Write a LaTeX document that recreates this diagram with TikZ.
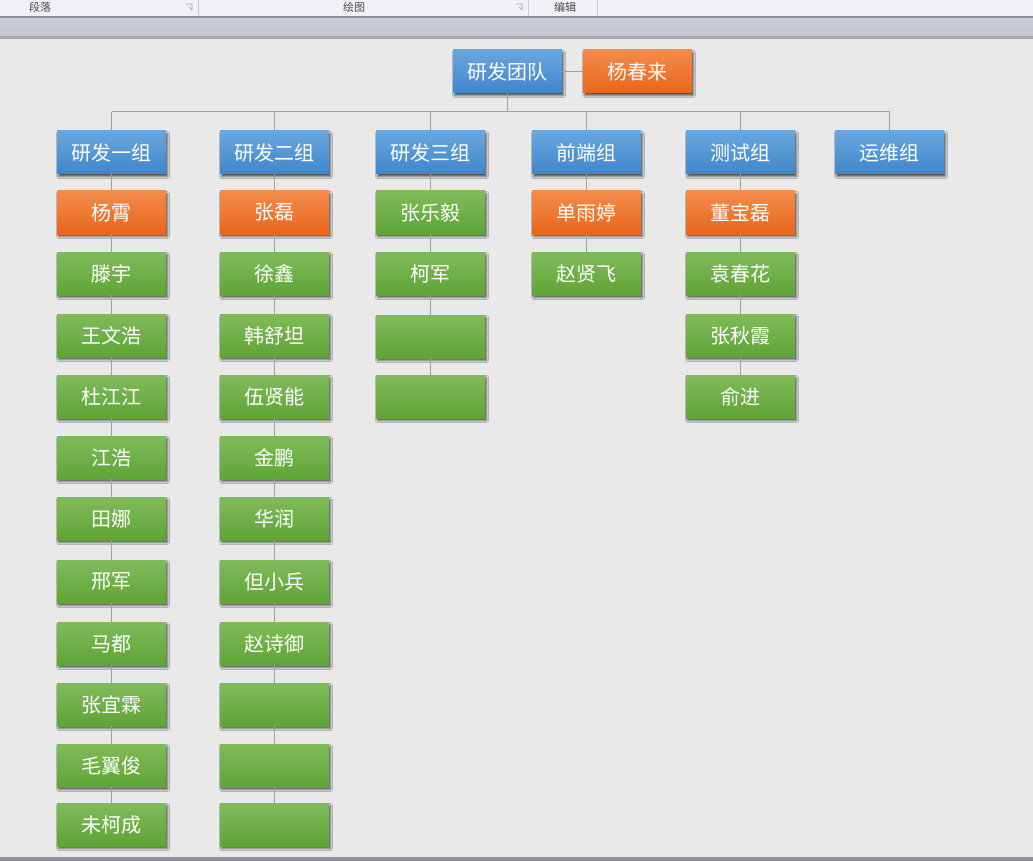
\documentclass[tikz,border=0pt]{standalone}
\usepackage{fontspec}
\newfontfamily\cjk{Noto Sans CJK SC}
\usetikzlibrary{shadows,shadows.blur}
\definecolor{canvas}{HTML}{E9E9E9}
\definecolor{tbar}{HTML}{F0F1F4}
\definecolor{tline}{HTML}{8A8E96}
\definecolor{bandtop}{HTML}{CDD0D6}
\definecolor{bandbot}{HTML}{C3C6CC}
\definecolor{bandedge}{HTML}{A8ABB2}
\definecolor{tbtext}{HTML}{4A4A4A}
\definecolor{tdiv}{HTML}{C5C8CE}
\definecolor{ticon}{HTML}{A0A3A8}
\definecolor{bottombar}{HTML}{8F9196}
\definecolor{conn}{HTML}{A0A0A0}
\definecolor{bluetop}{HTML}{6AA6DF}
\definecolor{bluebot}{HTML}{3E87CB}
\definecolor{orangetop}{HTML}{F48B4C}
\definecolor{orangebot}{HTML}{E8661A}
\definecolor{greentop}{HTML}{80BB5B}
\definecolor{greenbot}{HTML}{5FA436}
\tikzset{
  box/.style={minimum width=109pt, minimum height=43pt, inner sep=0pt, text=white,
    font=\cjk\fontsize{20}{21}\selectfont,
    blur shadow={shadow xshift=1.5pt, shadow yshift=-2.5pt, shadow blur radius=2pt, shadow opacity=65}},
  bluebox/.style={box, top color=bluetop, bottom color=bluebot},
  orangebox/.style={box, top color=orangetop, bottom color=orangebot},
  greenbox/.style={box, top color=greentop, bottom color=greenbot},
  link/.style={draw=conn, line width=1pt},
  tbtxt/.style={text=tbtext, font=\cjk\fontsize{11}{12}\selectfont, inner sep=0pt}
}
\begin{document}
\begin{tikzpicture}[x=1pt,y=-1pt]
\useasboundingbox (0,0) rectangle (1033,861);
\fill[canvas] (0,0) rectangle (1033,861);
% toolbar
\fill[tbar] (0,0) rectangle (1033,17);
\fill[top color=bandtop, bottom color=bandbot] (0,17) rectangle (1033,36);
\fill[bandedge] (0,36) rectangle (1033,39);
\fill[tline] (0,16.5) rectangle (1033,18);
\fill[tdiv] (197.5,0) rectangle (198.5,16.5);
\fill[tdiv] (527.5,0) rectangle (528.5,16.5);
\fill[tdiv] (596.5,0) rectangle (597.5,16.5);
\node[tbtxt] (t1) at (40,7) {段落};
\node[tbtxt] (t2) at (354,7) {绘图};
\node[tbtxt] (t3) at (565,7) {编辑};
\draw[ticon, line width=0.6pt] (186,4) -- (192,4) -- (192,10) (189,7) -- (192,10);
\draw[ticon, line width=0.6pt] (516,4) -- (522,4) -- (522,10) (519,7) -- (522,10);
% bottom bar
\fill[bottombar] (0,857) rectangle (1033,861);

% top level
\node[bluebox] (top) at (507.5,71.5) {研发团队};
\node[orangebox] (yang) at (637.5,71.5) {杨春来};
\coordinate (bus) at (0,112);

% column 1
\node[bluebox] (a0) at (111.5,152.5) {研发一组};
\node[orangebox] (a1) at (111.5,212.5) {杨霄};
\node[greenbox] (a2) at (111.5,273.5) {滕宇};
\node[greenbox] (a3) at (111.5,335.5) {王文浩};
\node[greenbox] (a4) at (111.5,396.5) {杜江江};
\node[greenbox] (a5) at (111.5,457.5) {江浩};
\node[greenbox] (a6) at (111.5,518.5) {田娜};
\node[greenbox] (a7) at (111.5,581.5) {邢军};
\node[greenbox] (a8) at (111.5,643.5) {马都};
\node[greenbox] (a9) at (111.5,704.5) {张宜霖};
\node[greenbox] (a10) at (111.5,765.5) {毛翼俊};
\node[greenbox] (a11) at (111.5,824.5) {未柯成};
% column 2
\node[bluebox] (b0) at (274.5,152.5) {研发二组};
\node[orangebox] (b1) at (274.5,212.5) {张磊};
\node[greenbox] (b2) at (274.5,273.5) {徐鑫};
\node[greenbox] (b3) at (274.5,335.5) {韩舒坦};
\node[greenbox] (b4) at (274.5,396.5) {伍贤能};
\node[greenbox] (b5) at (274.5,457.5) {金鹏};
\node[greenbox] (b6) at (274.5,518.5) {华润};
\node[greenbox] (b7) at (274.5,581.5) {但小兵};
\node[greenbox] (b8) at (274.5,643.5) {赵诗御};
\node[greenbox] (b9) at (274.5,704.5) {};
\node[greenbox] (b10) at (274.5,765.5) {};
\node[greenbox] (b11) at (274.5,824.5) {};
% column 3
\node[bluebox] (c0) at (430.5,152.5) {研发三组};
\node[greenbox] (c1) at (430.5,212.5) {张乐毅};
\node[greenbox] (c2) at (430.5,273.5) {柯军};
\node[greenbox] (c3) at (430.5,336.5) {};
\node[greenbox] (c4) at (430.5,396.5) {};
% column 4
\node[bluebox] (d0) at (586.5,152.5) {前端组};
\node[orangebox] (d1) at (586.5,212.5) {单雨婷};
\node[greenbox] (d2) at (586.5,273.5) {赵贤飞};
% column 5
\node[bluebox] (e0) at (740.5,152.5) {测试组};
\node[orangebox] (e1) at (740.5,212.5) {董宝磊};
\node[greenbox] (e2) at (740.5,273.5) {袁春花};
\node[greenbox] (e3) at (740.5,335.5) {张秋霞};
\node[greenbox] (e4) at (740.5,396.5) {俞进};
% column 6
\node[bluebox] (f0) at (889.5,152.5) {运维组};

% connectors
\draw[link] (top.east) -- (yang.west);
\draw[link] (top.south) -- (top.south |- bus);
\draw[link] (a0.north |- bus) -- (f0.north |- bus);
\foreach \n in {a0,b0,c0,d0,e0,f0}{\draw[link] (\n.north |- bus) -- (\n.north);}
\foreach \i [evaluate=\i as \j using int(\i+1)] in {0,...,10}{
  \draw[link] (a\i.south) -- (a\j.north);
  \draw[link] (b\i.south) -- (b\j.north);}
\foreach \i [evaluate=\i as \j using int(\i+1)] in {0,...,3}{
  \draw[link] (c\i.south) -- (c\j.north);
  \draw[link] (e\i.south) -- (e\j.north);}
\foreach \i [evaluate=\i as \j using int(\i+1)] in {0,1}{
  \draw[link] (d\i.south) -- (d\j.north);}
\end{tikzpicture}
\end{document}
